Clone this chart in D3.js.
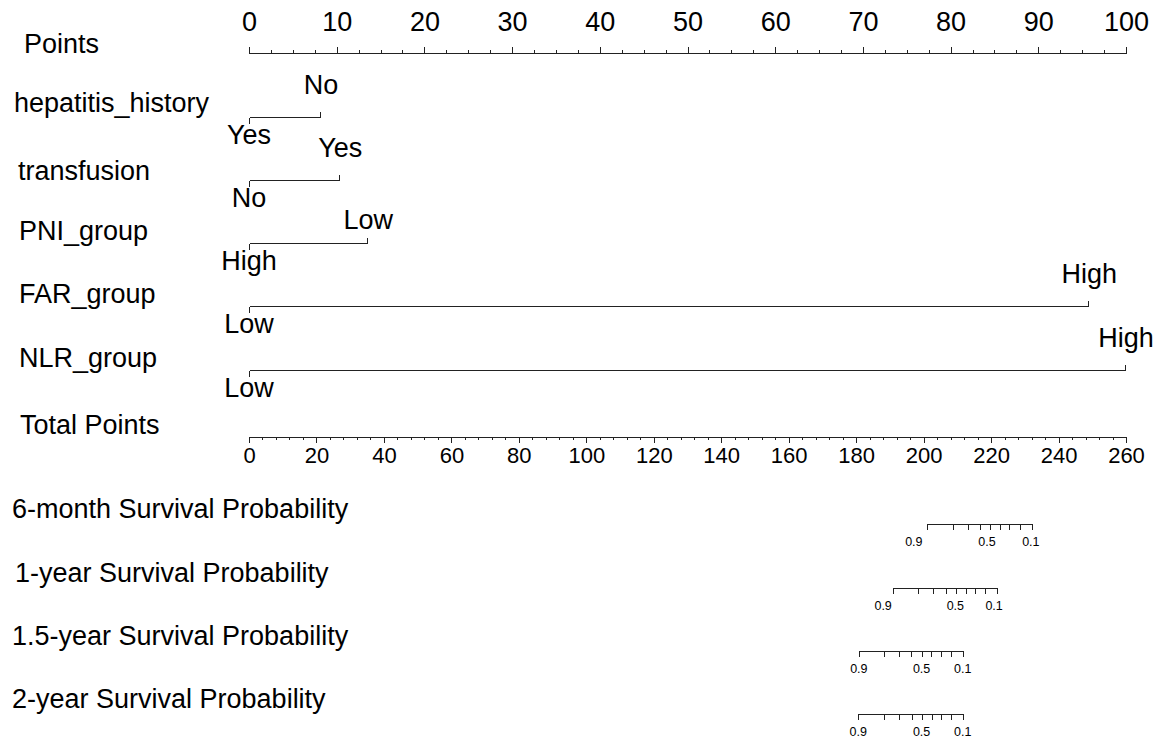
<!DOCTYPE html>
<html><head><meta charset="utf-8">
<script src="https://cdn.jsdelivr.net/npm/d3@7"></script>
<style>
html,body{margin:0;padding:0;background:#fff;}
svg{display:block;font-family:"Liberation Sans",Arial,sans-serif;}
</style></head>
<body>
<svg id="chart" width="1161" height="740"></svg>
<script>
// ---- data ----
const pointsTicks = [0,10,20,30,40,50,60,70,80,90,100];
const totalTicks = [0,20,40,60,80,100,120,140,160,180,200,220,240,260];
const variables = ["hepatitis_history","transfusion","PNI_group","FAR_group","NLR_group"];
const lowLevels = ["Yes","No","High","Low","Low"];
const highLevels = ["No","Yes","Low","High","High"];
const lowPoints = [0,0,0,0,0];
const highPoints = [8.2,10.4,13.6,95.8,100];
const survivalLabels = ["6-month Survival Probability","1-year Survival Probability","1.5-year Survival Probability","2-year Survival Probability"];
const probTicks = [0.9,0.8,0.7,0.6,0.5,0.4,0.3,0.2,0.1];
const probLabelled = ["0.9","0.5","0.1"];
// total points at each probability tick
const surv6m  = [200.9,208.6,213.1,216.7,219.8,222.6,225.4,228.6,232.0];
const surv1y  = [190.8,198.4,202.9,206.5,209.6,212.5,215.2,218.2,221.7];
const surv15y = [180.8,188.3,192.7,196.3,199.4,202.2,205.1,208.0,211.6];
const surv2y  = [180.6,188.3,192.8,196.5,199.4,202.4,205.2,208.0,211.6];
// total points where the labels 0.9 / 0.5 / 0.1 are printed
const surv6mLab  = [197.1,218.8,231.8];
const surv1yLab  = [188.0,209.4,220.9];
const surv15yLab = [180.8,199.4,211.6];
const surv2yLab  = [180.6,199.4,211.6];
const survSeries = [surv6m, surv1y, surv15y, surv2y];
const survLabSeries = [surv6mLab, surv1yLab, surv15yLab, surv2yLab];

// ---- layout ----
const svg = d3.select("#chart");
const x0 = 249, x1 = 1126;
const xPts = d3.scaleLinear().domain([0,100]).range([x0,x1]);
const xTot = d3.scaleLinear().domain([0,260]).range([x0,x1]);
const bigFont = 27, midFont = 22, smallFont = 12.5;
const lineCol = "#222";

function styleAxis(g, fs){
  g.selectAll("path,line").attr("stroke", lineCol).attr("stroke-width",1).attr("shape-rendering","crispEdges");
  g.selectAll("text").attr("fill","#000").attr("font-size", fs).attr("font-family", '"Liberation Sans",Arial,sans-serif');
}

// Points axis
const ptsY = 52;
svg.append("text").attr("x",24).attr("y",53).attr("font-size",bigFont).text("Points");
const gMinor = svg.append("g").attr("transform",`translate(0,${ptsY+0.5})`)
  .call(d3.axisTop(xPts).tickValues(d3.range(0,100.001,2.5)).tickSize(3).tickFormat(""));
styleAxis(gMinor, bigFont);
const gPts = svg.append("g").attr("transform",`translate(0,${ptsY+0.5})`)
  .call(d3.axisTop(xPts).tickValues(pointsTicks).tickSize(6).tickSizeOuter(6).tickPadding(16).tickFormat(d3.format("d")));
styleAxis(gPts, bigFont);

// variable rows
const rowY = [117,180,243,306,370];
const labY = [112,180,240,303,367];
const labX = [14,18,19,19,19];
const aboveOff = [-23.5,-23.5,-14.5,-23.5,-23.5];
variables.forEach((v,i)=>{
  const y = rowY[i] + 0.5;
  svg.append("text").attr("x", labX[i]).attr("y", labY[i]).attr("font-size",bigFont).text(v);
  const xa = Math.round(xPts(lowPoints[i])) + 0.5, xb = Math.round(xPts(highPoints[i])) - 0.5;
  const g = svg.append("g").attr("stroke",lineCol).attr("stroke-width",1).attr("shape-rendering","crispEdges");
  g.append("line").attr("x1",xa).attr("x2",xb).attr("y1",y).attr("y2",y);
  g.append("line").attr("x1",xa).attr("x2",xa).attr("y1",y).attr("y2",y+6);
  g.append("line").attr("x1",xb).attr("x2",xb).attr("y1",y).attr("y2",y-6);
  svg.append("text").attr("x",xPts(lowPoints[i])).attr("y",rowY[i]+26.5).attr("text-anchor","middle").attr("font-size",bigFont).text(lowLevels[i]);
  svg.append("text").attr("x",xPts(highPoints[i])).attr("y",rowY[i]+aboveOff[i]).attr("text-anchor","middle").attr("font-size",bigFont).text(highLevels[i]);
});

// Total points axis
const totY = 436;
svg.append("text").attr("x",20).attr("y",434).attr("font-size",bigFont).text("Total Points");
const gTotMinor = svg.append("g").attr("transform",`translate(0,${totY+0.5})`)
  .call(d3.axisBottom(xTot).tickValues(d3.range(0,260.001,4)).tickSize(3).tickFormat(""));
styleAxis(gTotMinor, midFont);
const gTot = svg.append("g").attr("transform",`translate(0,${totY+0.5})`)
  .call(d3.axisBottom(xTot).tickValues(totalTicks).tickSize(6).tickSizeOuter(6).tickPadding(5).tickFormat(d3.format("d")));
styleAxis(gTot, midFont);

// Survival axes
const survY = [523,587,650,713];
const survLabY = [518,582,645,708];
const survLabX = [12,15,12,12];
survSeries.forEach((arr,i)=>{
  svg.append("text").attr("x",survLabX[i]).attr("y",survLabY[i]).attr("font-size",bigFont).text(survivalLabels[i]);
  const sc = d3.scaleLinear().domain(probTicks).range(arr.map(t=>xTot(t)));
  const g = svg.append("g").attr("transform",`translate(0,${survY[i]+0.5})`)
    .call(d3.axisBottom(sc).tickValues(probTicks).tickSize(6).tickSizeOuter(6).tickFormat(""));
  styleAxis(g, smallFont);
  svg.append("g").selectAll("text").data(survLabSeries[i]).join("text")
    .attr("x", d => xTot(d)).attr("y", survY[i] + 23)
    .attr("text-anchor","middle").attr("font-size",smallFont).attr("fill","#000")
    .text((d,j) => probLabelled[j]);
});
</script>
</body></html>
